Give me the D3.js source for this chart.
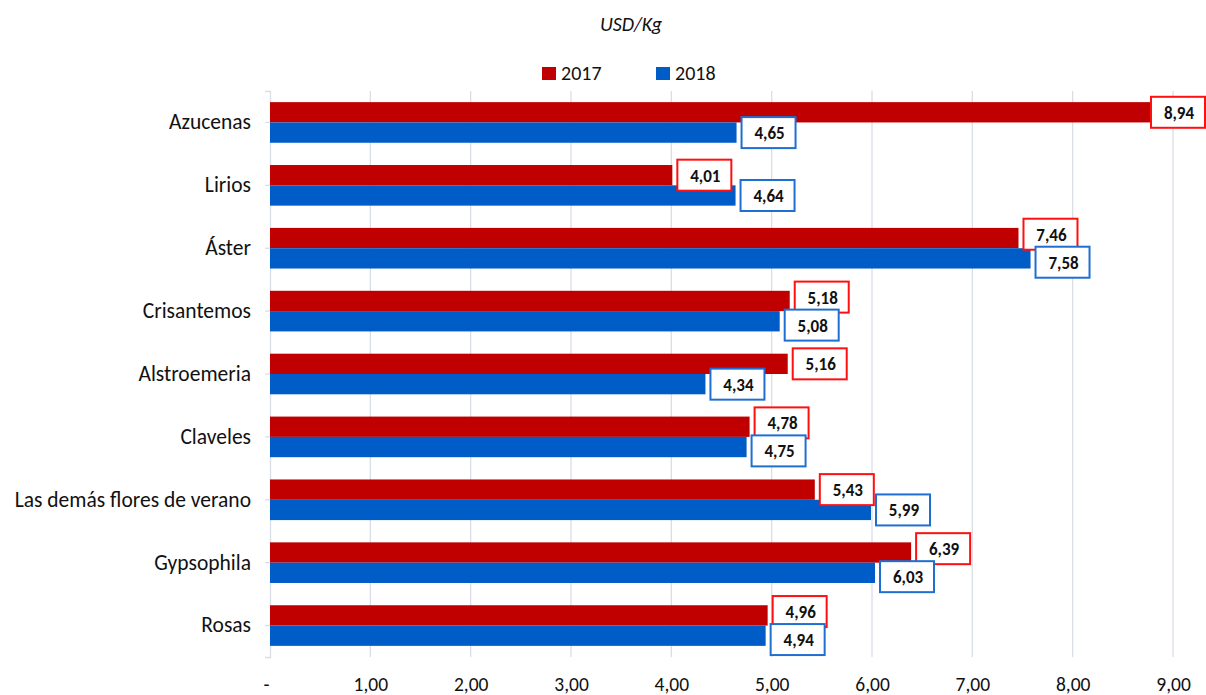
<!DOCTYPE html>
<html>
<head>
<meta charset="utf-8">
<script src="https://cdn.jsdelivr.net/npm/d3@7"></script>
<style>
  html, body { margin: 0; padding: 0; background: #fff; }
  svg { display: block; font-family: Calibri, Carlito, Lato, "Noto Sans", sans-serif; }
</style>
</head>
<body>
<svg id="chart" width="1206" height="695"></svg>
<script>
const categories = ["Azucenas", "Lirios", "Áster", "Crisantemos", "Alstroemeria", "Claveles", "Las demás flores de verano", "Gypsophila", "Rosas"];
const series = ["2017", "2018"];
const values2017 = [8.94, 4.01, 7.46, 5.18, 5.16, 4.78, 5.43, 6.39, 4.96];
const values2018 = [4.65, 4.64, 7.58, 5.08, 4.34, 4.75, 5.99, 6.03, 4.94];
const xTickValues = [0, 1, 2, 3, 4, 5, 6, 7, 8, 9];
const xTickLabels = ["-", "1,00", "2,00", "3,00", "4,00", "5,00", "6,00", "7,00", "8,00", "9,00"];
const unitLabel = "USD/Kg";

const W = 1206, H = 695;
const barColors = { "2017": "#c00000", "2018": "#005cc6" };
const boxColors = { "2017": "#ff1010", "2018": "#1f6fd2" };
const valuesBySeries = { "2017": values2017, "2018": values2018 };
const fmt = v => v.toFixed(2).replace(".", ",");

const svg = d3.select("#chart");

const x = d3.scaleLinear().domain([0, 9]).range([270, 1173]);
const y = d3.scaleBand().domain(categories).range([91, 657]).paddingInner(0.354).paddingOuter(0.177);
const sub = d3.scaleBand().domain(series).range([0, y.bandwidth()]);

// gridlines
svg.append("g").selectAll("line").data(xTickValues.slice(1)).join("line")
  .attr("x1", d => x(d)).attr("x2", d => x(d))
  .attr("y1", 91).attr("y2", 657)
  .attr("stroke", "#d9dee8").attr("stroke-width", 1.3);

// category axis
const yAxis = d3.axisLeft(y).tickSize(5).tickPadding(14);
const gy = svg.append("g").attr("transform", `translate(${x(0)},0)`).call(yAxis);
gy.select(".domain").attr("stroke", "#d9dee8").attr("stroke-width", 1.3);
gy.selectAll(".tick line").attr("stroke", "#d9dee8").attr("stroke-width", 1.3);
gy.selectAll(".tick text").attr("font-size", 21.5).attr("fill", "#111")
  .attr("font-family", "Calibri, Carlito, Lato, sans-serif");

// value axis labels
const xAxis = d3.axisBottom(x).tickValues(xTickValues)
  .tickFormat((d, i) => xTickLabels[i]).tickSize(0).tickPadding(0);
const gx = svg.append("g").attr("transform", `translate(0,677)`).call(xAxis);
gx.select(".domain").remove();
gx.selectAll(".tick text").attr("font-size", 19.5).attr("fill", "#111")
  .attr("font-family", "Calibri, Carlito, Lato, sans-serif")
  .attr("dy", "0.72em")
  .attr("dx", (d, i) => i === 0 ? -4 : 0);

// bars
series.forEach(s => {
  svg.append("g").selectAll("rect").data(categories).join("rect")
    .attr("x", x(0))
    .attr("y", c => y(c) + sub(s))
    .attr("width", (c, i) => x(valuesBySeries[s][i]) - x(0))
    .attr("height", sub.bandwidth())
    .attr("fill", barColors[s]);
});

// data labels
const boxW = 54, boxH = 31, gap = 5;
const labels = [];
categories.forEach((c, i) => {
  const pair = series.map(s => {
    const v = valuesBySeries[s][i];
    const bx = Math.min(x(v) + gap, W - 1 - boxW);
    const cy = y(c) + sub(s) + sub.bandwidth() / 2;
    return { s, v, bx, cy };
  });
  if (Math.abs(pair[0].bx - pair[1].bx) < boxW) {
    const overlap = boxH - (pair[1].cy - pair[0].cy);
    const shift = Math.max(0, (overlap - 3) / 2);
    pair[0].cy -= shift;
    pair[1].cy += shift;
  }
  labels.push(...pair);
});
series.forEach(s => {
  const g = svg.append("g").selectAll("g").data(labels.filter(l => l.s === s)).join("g")
    .attr("transform", d => `translate(${d.bx},${d.cy - boxH / 2})`);
  g.append("rect").attr("width", boxW).attr("height", boxH)
    .attr("fill", "#fff").attr("stroke", boxColors[s]).attr("stroke-width", 2);
  g.append("text").attr("x", boxW / 2 + 1).attr("y", boxH / 2 + 1)
    .attr("text-anchor", "middle").attr("dominant-baseline", "central")
    .attr("font-size", 17).attr("font-weight", "bold").attr("fill", "#111")
    .text(d => fmt(d.v));
});

// unit subtitle
svg.append("text").attr("x", 631).attr("y", 31).attr("text-anchor", "middle")
  .attr("font-size", 20).attr("font-style", "italic").attr("fill", "#111").text(unitLabel);

// legend
const legendX = [542, 656];
const lg = svg.append("g").selectAll("g").data(series).join("g")
  .attr("transform", (d, i) => `translate(${legendX[i]},67)`);
lg.append("rect").attr("width", 14).attr("height", 13).attr("fill", d => barColors[d]);
lg.append("text").attr("x", 19).attr("y", 13).attr("font-size", 20).attr("fill", "#111").text(d => d);
</script>
</body>
</html>
